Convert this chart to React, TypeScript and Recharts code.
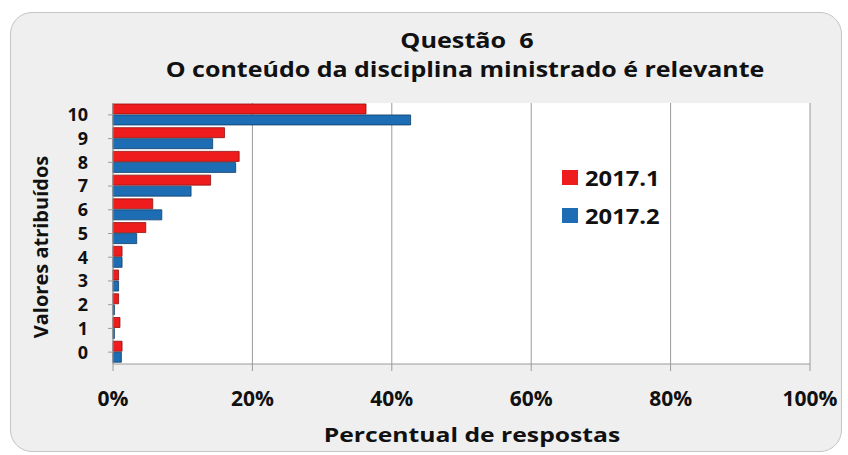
import { BarChart, Bar, XAxis, YAxis, CartesianGrid, Legend } from 'recharts'

const categories = ['10', '9', '8', '7', '6', '5', '4', '3', '2', '1', '0']
const serie2017_1 = [36.3, 16.0, 18.1, 14.0, 5.7, 4.7, 1.3, 0.8, 0.8, 1.0, 1.3]
const serie2017_2 = [42.7, 14.3, 17.6, 11.2, 7.0, 3.4, 1.3, 0.8, 0.2, 0.2, 1.2]
const xTicks = [0, 20, 40, 60, 80, 100]

const data = categories.map((label, i) => ({
  label,
  s1: serie2017_1[i],
  s2: serie2017_2[i],
}))

const FONT = "'Open Sans', 'DejaVu Sans', sans-serif"
const RED = '#ee1c1c'
const BLUE = '#1d6db4'

// texto um pouco esticado na horizontal, como no original
const stretched = (cx: number, top: number, size: number, sx: number) => ({
  position: 'absolute' as const,
  left: cx,
  top,
  transform: `translateX(-50%) scaleX(${sx})`,
  whiteSpace: 'nowrap' as const,
  fontWeight: 700,
  fontSize: size,
  color: '#111',
})

function LegendBox({ payload }: any) {
  return (
    <div style={{ fontFamily: FONT, fontWeight: 700, fontSize: 22, color: '#111' }}>
      {(payload || []).map((p: any) => (
        <div key={p.value} style={{ display: 'flex', alignItems: 'center', height: 38 }}>
          <span style={{ width: 16, height: 15, background: p.color, marginRight: 7, display: 'inline-block' }} />
          <span style={{ display: 'inline-block', transform: 'scaleX(1.08)', transformOrigin: 'left' }}>{p.value}</span>
        </div>
      ))}
    </div>
  )
}

export default function App() {
  return (
    <div style={{ position: 'absolute', left: 0, top: 0, width: 848, height: 455, background: '#fff', fontFamily: FONT }}>
      <div
        style={{
          position: 'absolute',
          left: 10,
          top: 12,
          width: 830,
          height: 438,
          background: '#efefef',
          border: '1.5px solid #c4c4c4',
          borderRadius: 22,
        }}
      />
      <div style={stretched(467, 26, 21, 1.2)}>Questão&nbsp;&nbsp;6</div>
      <div style={stretched(465, 55, 21, 1.19)}>O conteúdo da disciplina ministrado é relevante</div>
      <div
        style={{
          position: 'absolute',
          left: 40,
          top: 247,
          transform: 'translate(-50%, -50%) rotate(-90deg)',
          whiteSpace: 'nowrap',
          fontWeight: 700,
          fontSize: 20,
          color: '#111',
        }}
      >
        Valores atribuídos
      </div>
      <div style={stretched(472, 422, 19, 1.3)}>Percentual de respostas</div>
      <div style={{ position: 'absolute', left: 0, top: 0 }}>
        <BarChart
          width={848}
          height={455}
          data={data}
          layout="vertical"
          margin={{ top: 103, right: 38, left: 53, bottom: 0 }}
          barCategoryGap="4%"
          barGap={1}
        >
          <CartesianGrid horizontal={false} stroke="#9a9a9a" fill="#ffffff" />
          <XAxis
            type="number"
            domain={[0, 100]}
            ticks={xTicks}
            tickFormatter={v => `${v}%`}
            height={91}
            tickSize={7}
            tickMargin={20}
            stroke="#9a9a9a"
            tick={{ fill: '#111', fontSize: 21, fontWeight: 700, fontFamily: FONT }}
          />
          <YAxis
            type="category"
            dataKey="label"
            width={60}
            interval={0}
            tickSize={5}
            tickMargin={20}
            stroke="#9a9a9a"
            tick={{ fill: '#111', fontSize: 18, fontWeight: 700, fontFamily: FONT }}
          />
          <Legend
            layout="vertical"
            verticalAlign="middle"
            align="center"
            wrapperStyle={{ left: 562, top: 158, width: 140 }}
            content={<LegendBox />}
          />
          <Bar dataKey="s1" name="2017.1" fill={RED} stroke="#8e1010" strokeWidth={0.8} isAnimationActive={false} />
          <Bar dataKey="s2" name="2017.2" fill={BLUE} stroke="#123d68" strokeWidth={0.8} isAnimationActive={false} />
        </BarChart>
      </div>
    </div>
  )
}
